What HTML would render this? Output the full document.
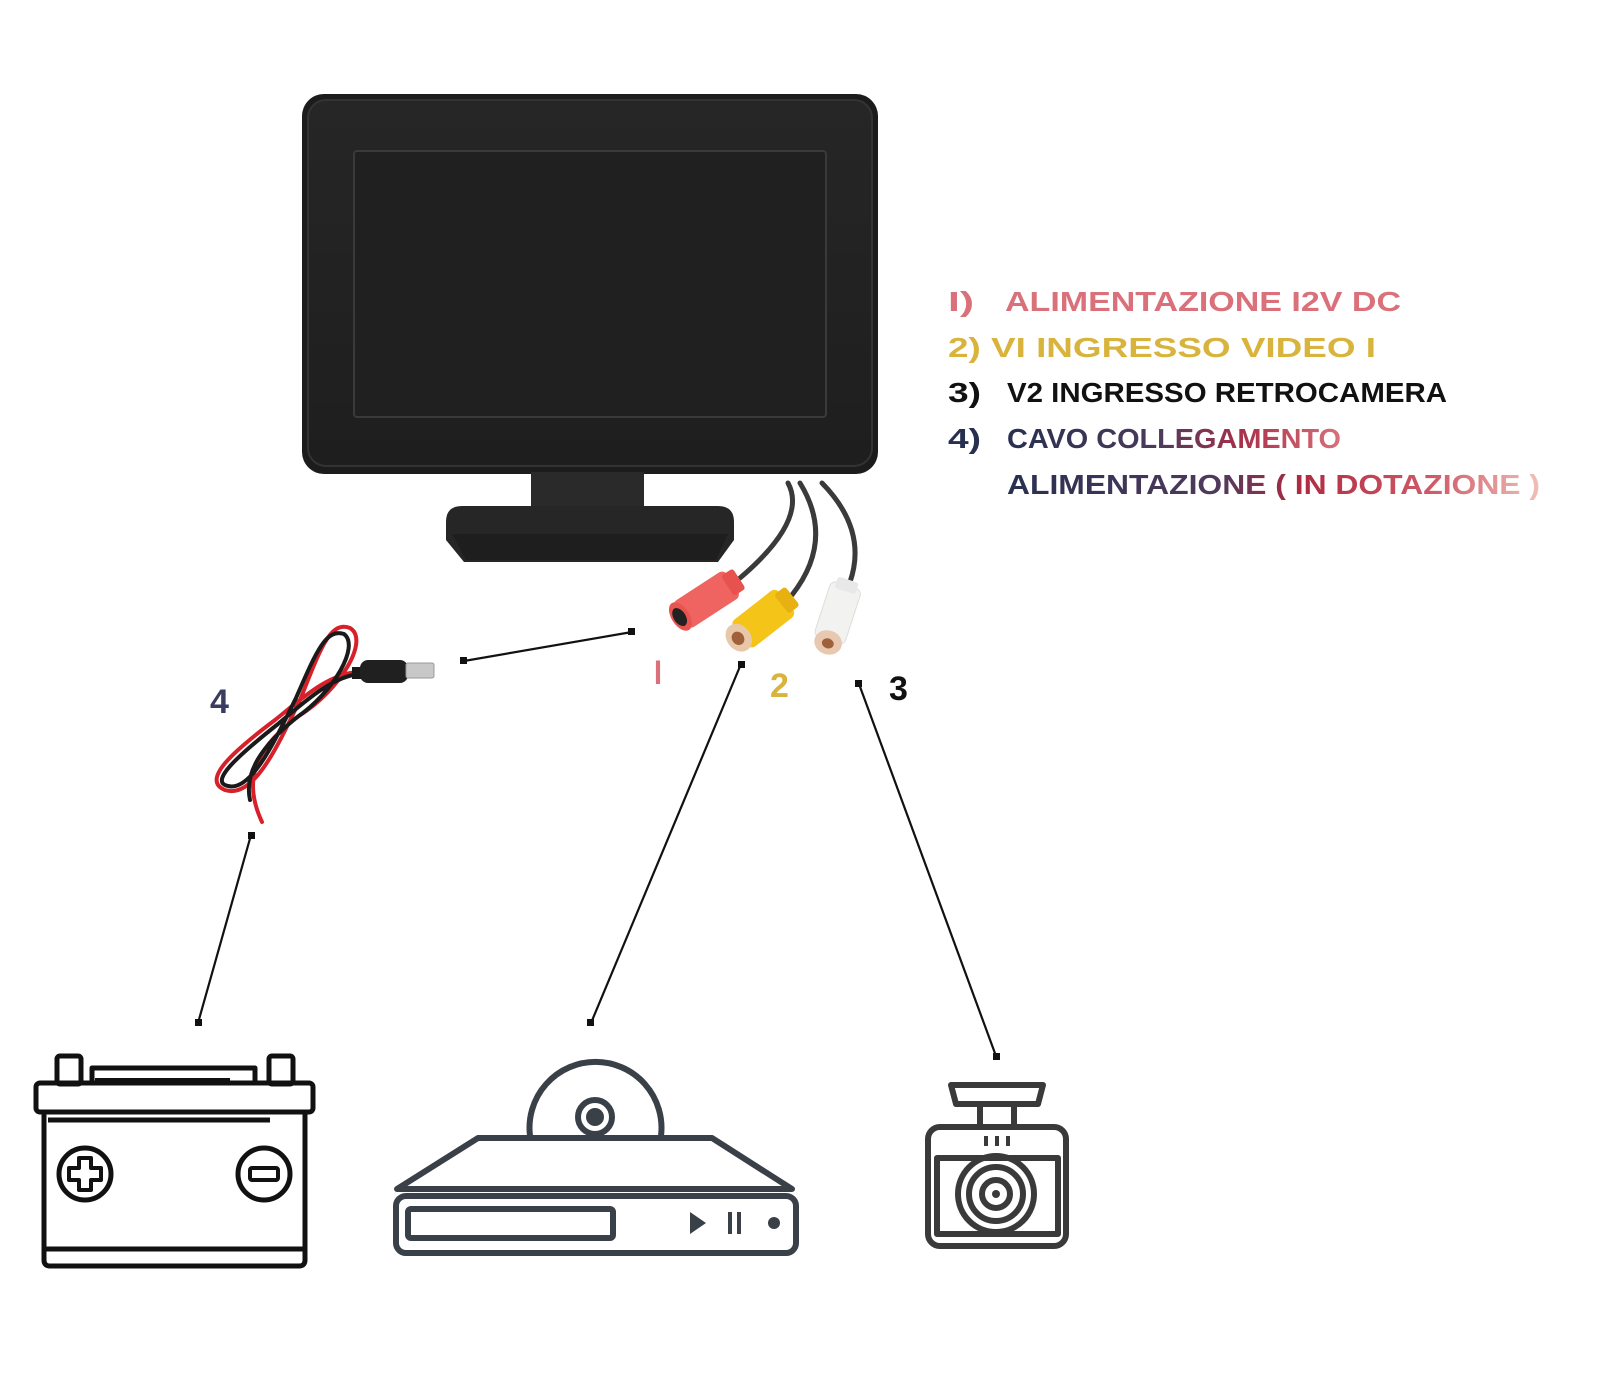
<!DOCTYPE html>
<html><head><meta charset="utf-8"><style>
html,body{margin:0;padding:0;background:#fff;}
svg{display:block}
text{font-family:"Liberation Sans",sans-serif;font-weight:bold}
</style></head><body>
<svg width="1600" height="1400" viewBox="0 0 1600 1400" xmlns="http://www.w3.org/2000/svg">
<defs>
<linearGradient id="g4" x1="1007" y1="0" x2="1341" y2="0" gradientUnits="userSpaceOnUse">
<stop offset="0" stop-color="#283050"/><stop offset="0.45" stop-color="#4a3a5a"/><stop offset="0.7" stop-color="#a8304a"/><stop offset="1" stop-color="#d9707a"/></linearGradient>
<linearGradient id="g5" x1="1007" y1="0" x2="1540" y2="0" gradientUnits="userSpaceOnUse">
<stop offset="0" stop-color="#283050"/><stop offset="0.4" stop-color="#503a5c"/><stop offset="0.55" stop-color="#b02a40"/><stop offset="0.8" stop-color="#d05a68"/><stop offset="1" stop-color="#f0c0b8"/></linearGradient>
<linearGradient id="bez" x1="0" y1="0" x2="0" y2="1"><stop offset="0" stop-color="#262626"/><stop offset="1" stop-color="#1e1e1e"/></linearGradient>
</defs>

<!-- Monitor -->
<rect x="302" y="94" width="576" height="380" rx="22" fill="#1c1c1c"/>
<rect x="308" y="100" width="564" height="366" rx="18" fill="url(#bez)" stroke="#333" stroke-width="2"/>
<rect x="354" y="151" width="472" height="266" rx="3" fill="#202020" stroke="#3a3a3a" stroke-width="2"/>
<rect x="531" y="472" width="113" height="42" fill="#2a2a2a"/>
<path d="M462 506 L718 506 Q734 506 734 522 L734 540 L718 562 L464 562 L446 540 L446 522 Q446 506 462 506 Z" fill="#262626"/>
<path d="M452 534 L728 534 L716 560 L466 560 Z" fill="#1e1e1e"/>

<!-- cables -->
<g fill="none" stroke="#3a3a3a" stroke-width="5" stroke-linecap="round">
<path d="M788 483 Q808 520 740 578"/>
<path d="M800 483 Q835 540 792 595"/>
<path d="M822 483 Q868 530 850 582"/>
</g>
<g transform="translate(709,598) rotate(-33)">
<rect x="-34" y="-16" width="62" height="32" rx="6" fill="#ef6360"/>
<rect x="22" y="-12" width="14" height="24" rx="3" fill="#e8524e"/>
<ellipse cx="-34" cy="0" rx="9" ry="16" fill="#e85550"/>
<ellipse cx="-35" cy="0" rx="6" ry="10" fill="#222"/>
</g>
<g transform="translate(764,618) rotate(-38)">
<rect x="-30" y="-17" width="58" height="34" rx="6" fill="#f5c418"/>
<rect x="22" y="-12" width="14" height="24" rx="3" fill="#e8b010"/>
<ellipse cx="-32" cy="0" rx="12" ry="15" fill="#e8c8a8"/>
<ellipse cx="-33" cy="0" rx="6" ry="7" fill="#a0603a"/>
</g>
<g transform="translate(838,612) rotate(-72)">
<rect x="-30" y="-16" width="58" height="32" rx="6" fill="#f2f2f0" stroke="#ddd"/>
<rect x="22" y="-11" width="12" height="22" rx="3" fill="#e8e8e8"/>
<ellipse cx="-32" cy="0" rx="12" ry="14" fill="#e8c8b0"/>
<ellipse cx="-33" cy="0" rx="5" ry="6" fill="#a0603a"/>
</g>

<!-- power cable 4 -->
<g fill="none" stroke-linecap="round">
<path d="M360 672 C330 672 300 700 275 720 C235 750 200 780 225 790 C255 800 280 740 300 700 C320 650 330 620 350 628 C370 640 340 690 300 715 C260 745 240 775 262 822" stroke="#d8202a" stroke-width="4"/>
<path d="M360 674 C332 676 302 704 278 724 C240 754 208 782 228 786 C252 792 276 738 296 698 C316 652 326 628 344 634 C360 646 334 692 296 718 C262 746 244 772 250 800" stroke="#1a1a1a" stroke-width="4"/>
</g>
<rect x="352" y="667" width="10" height="12" fill="#1a1a1a"/>
<rect x="360" y="660" width="48" height="23" rx="8" fill="#202020"/>
<rect x="406" y="663" width="28" height="15" rx="2" fill="#c8c8c8" stroke="#999"/>

<!-- connector lines -->
<g stroke="#111" stroke-width="2.2">
<line x1="464" y1="661" x2="632" y2="632"/>
<line x1="741" y1="664" x2="591" y2="1023"/>
<line x1="859" y1="684" x2="996" y2="1056"/>
<line x1="251" y1="835" x2="198" y2="1023"/>
</g>
<g fill="#111">
<rect x="460" y="657" width="7" height="7"/><rect x="628" y="628" width="7" height="7"/>
<rect x="738" y="661" width="7" height="7"/><rect x="587" y="1019" width="7" height="7"/>
<rect x="855" y="680" width="7" height="7"/><rect x="993" y="1053" width="7" height="7"/>
<rect x="248" y="832" width="7" height="7"/><rect x="195" y="1019" width="7" height="7"/>
</g>

<text x="654" y="684" font-size="34" fill="#d9707a" textLength="8" lengthAdjust="spacingAndGlyphs">I</text>
<text x="770" y="697" font-size="34" fill="#d9b43c">2</text>
<text x="889" y="700" font-size="34" fill="#111">3</text>
<text x="210" y="713" font-size="34" fill="#3a3c60">4</text>

<!-- legend -->
<text x="948" y="311" font-size="28" fill="#d9707a" textLength="26" lengthAdjust="spacingAndGlyphs">I)</text>
<text x="1005" y="311" font-size="28" fill="#d9707a" textLength="396" lengthAdjust="spacingAndGlyphs">ALIMENTAZIONE I2V DC</text>
<text x="948" y="357" font-size="28" fill="#d9b43c" textLength="428" lengthAdjust="spacingAndGlyphs">2) VI INGRESSO VIDEO I</text>
<text x="948" y="402" font-size="28" fill="#111" textLength="33" lengthAdjust="spacingAndGlyphs">3)</text>
<text x="1007" y="402" font-size="28" fill="#111" textLength="440" lengthAdjust="spacingAndGlyphs">V2 INGRESSO RETROCAMERA</text>
<text x="948" y="448" font-size="28" fill="#283050" textLength="33" lengthAdjust="spacingAndGlyphs">4)</text>
<text x="1007" y="448" font-size="28" fill="url(#g4)" textLength="334" lengthAdjust="spacingAndGlyphs">CAVO COLLEGAMENTO</text>
<text x="1007" y="494" font-size="28" fill="url(#g5)" textLength="533" lengthAdjust="spacingAndGlyphs">ALIMENTAZIONE ( IN DOTAZIONE )</text>

<!-- battery -->
<g fill="none" stroke="#111" stroke-width="5" stroke-linejoin="round">
<rect x="57" y="1056" width="24" height="28" rx="3"/>
<rect x="269" y="1056" width="24" height="28" rx="3"/>
<path d="M92 1083 L92 1068 L255 1068 L255 1083"/>
<rect x="36" y="1083" width="277" height="29" rx="4"/>
<path d="M44 1112 L44 1260 Q44 1266 50 1266 L299 1266 Q305 1266 305 1260 L305 1112"/>
<line x1="48" y1="1120" x2="270" y2="1120"/>
<line x1="46" y1="1249" x2="303" y2="1249"/>
<line x1="95" y1="1080" x2="230" y2="1080" stroke-width="4"/>
<circle cx="85" cy="1174" r="26"/>
<circle cx="264" cy="1174" r="26"/>
<path d="M79 1158 h12 v10 h10 v12 h-10 v10 h-12 v-10 h-10 v-12 h10 z" stroke-width="4"/>
<rect x="250" y="1168" width="28" height="12" rx="2" stroke-width="4"/>
</g>

<!-- dvd -->
<g fill="none" stroke="#3a4048" stroke-width="6" stroke-linejoin="round">
<path d="M530 1136 A66 66 0 1 1 661 1136"/>
<circle cx="595" cy="1117" r="17"/>
<path d="M478 1138 L712 1138 L792 1189 L397 1189 Z"/>
<rect x="396" y="1196" width="400" height="57" rx="10"/>
<rect x="408" y="1209" width="205" height="29" rx="3"/>
</g>
<circle cx="595" cy="1117" r="9" fill="#3a4048"/>
<path d="M690 1212 L706 1223 L690 1234 Z" fill="#3a4048"/>
<rect x="728" y="1212" width="4" height="22" fill="#3a4048"/><rect x="737" y="1212" width="4" height="22" fill="#3a4048"/>
<circle cx="774" cy="1223" r="6" fill="#3a4048"/>

<!-- camera -->
<g fill="none" stroke="#3a3a3a" stroke-width="6" stroke-linejoin="round">
<path d="M951 1085 L1043 1085 L1038 1104 L956 1104 Z"/>
<path d="M980 1104 L980 1127 M1014 1104 L1014 1127"/>
<rect x="928" y="1127" width="138" height="119" rx="12"/>
<rect x="937" y="1158" width="121" height="76"/>
<circle cx="996" cy="1194" r="38"/>
<circle cx="996" cy="1194" r="27"/>
<circle cx="996" cy="1194" r="14"/>
</g>
<circle cx="996" cy="1194" r="4" fill="#3a3a3a"/>
<g stroke="#3a3a3a" stroke-width="4"><line x1="986" y1="1136" x2="986" y2="1146"/><line x1="997" y1="1136" x2="997" y2="1146"/><line x1="1008" y1="1136" x2="1008" y2="1146"/></g>
</svg>
</body></html>
